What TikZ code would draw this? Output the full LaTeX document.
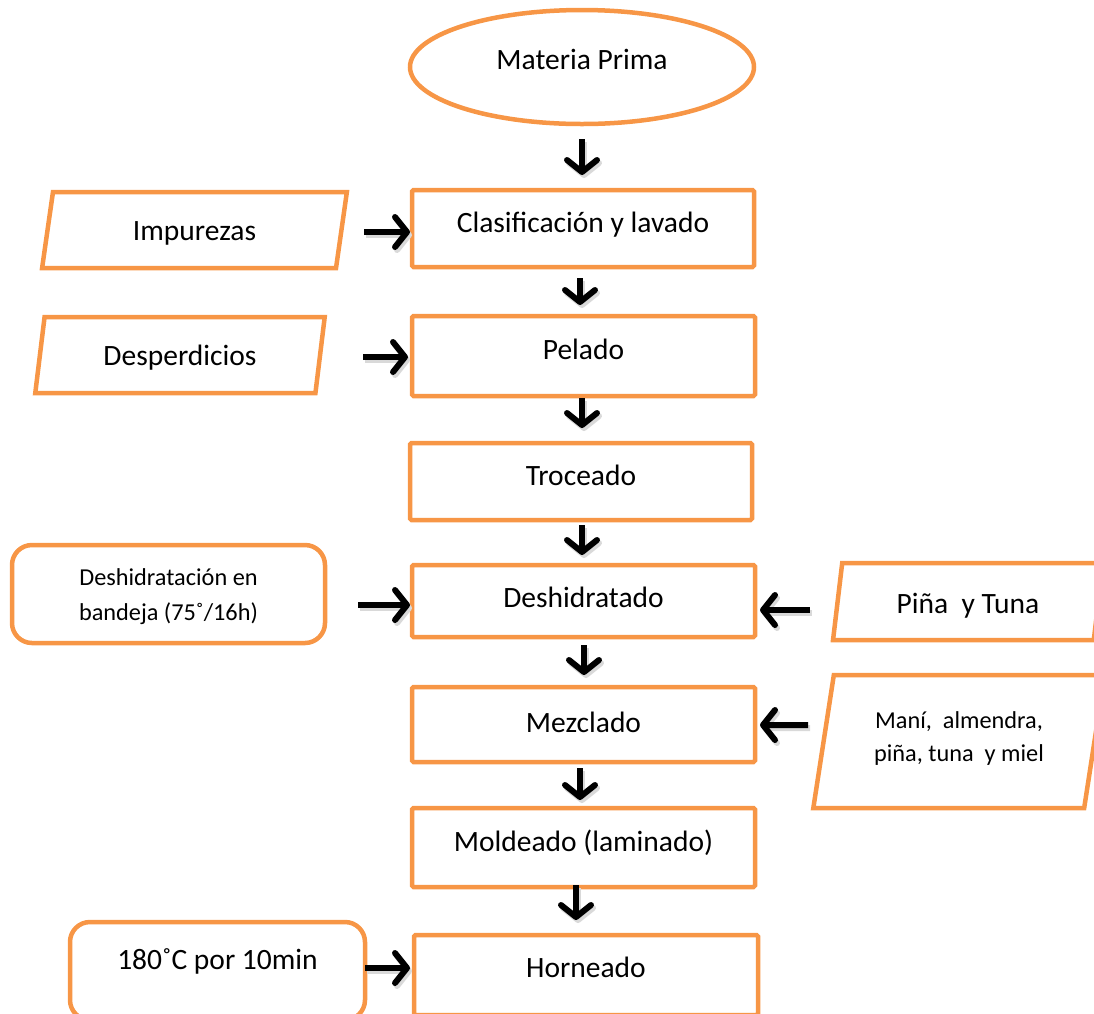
\documentclass[tikz,border=0pt]{standalone}
\usepackage{fontspec}
\setmainfont{Carlito}
\usetikzlibrary{shapes.geometric,arrows.meta,calc}
\definecolor{orng}{HTML}{F79646}
\newcommand{\txr}[2]{\raisebox{#1}[0pt][0pt]{#2}}
\newcommand{\txp}[2]{\raisebox{#1}[10pt][10pt]{#2}}
\begin{document}
\begin{tikzpicture}[x=1pt,y=-1pt,
  box/.style={draw=orng, line width=4.5pt, fill=white, inner sep=0pt, outer sep=0pt,
    font=\fontsize{29.5}{34}\selectfont, align=center},
  proc/.style={box, rectangle, rounded corners=1.5pt},
  cond/.style={box, rectangle, rounded corners=20pt, font=\fontsize{24.3}{35}\selectfont},
  para/.style={box, trapezium, trapezium left angle=#1, trapezium right angle=180-#1, trapezium stretches=true},
  arr/.style={line width=6pt, -{Straight Barb[length=12pt, width=30pt, line cap=round, line join=round]},
    preaction={draw=black!15, line width=6pt, transform canvas={shift={(2pt,-3pt)}}}},
]
\useasboundingbox (0,0) rectangle (1094,1013);

% main column
\node[box, ellipse, minimum width=344, minimum height=114] (mp) at (582,67) {\txr{-2pt}{Materia Prima}};
\node[proc, minimum width=342, minimum height=77] (cl) at (583,228.5) {\txr{-3.5pt}{Clasificación y lavado}};
\node[proc, minimum width=343, minimum height=80] (pel) at (583.5,356) {\txr{-3pt}{Pelado}};
\node[proc, minimum width=342, minimum height=77] (tr) at (581,481.5) {\txr{-3.5pt}{Troceado}};
\node[proc, minimum width=343, minimum height=72] (dh) at (583.5,601) {\txr{-6pt}{Deshidratado}};
\node[proc, minimum width=343, minimum height=75] (mz) at (583.5,724.5) {\txr{-7.5pt}{Mezclado}};
\node[proc, minimum width=343, minimum height=79] (mo) at (583.5,847.5) {\txr{-3.5pt}{Moldeado (laminado)}};
\node[proc, minimum width=344, minimum height=80] (hn) at (586,975) {\txr{-2pt}{Horneado}};

% side nodes
\node[para=76.7, minimum width=305, minimum height=76] (imp) at (194.5,230) {\txp{-10pt}{Impurezas}};
\node[para=75.3, minimum width=290, minimum height=76] (desp) at (180,355) {\txp{-10pt}{Desperdicios}};
\node[cond, minimum width=313, minimum height=98] (des) at (168.5,594) {\txr{-8.5pt}{Deshidratación en}\\\txr{-8.5pt}{bandeja (75˚/16h)}};
\node[para=75.4, minimum width=270, minimum height=77] (pina) at (968,601.5) {\txp{-11.5pt}{Piña\ \ y Tuna}};
\node[para=75.3, minimum width=292, minimum height=133, font=\fontsize{24.3}{33}\selectfont] (mani) at (959,741.5) {\txp{-3pt}{Maní,\ \ almendra,}\\\txp{-3pt}{piña, tuna\ \ y miel}};
\node[cond, minimum width=295, minimum height=98, font=\fontsize{29.5}{34}\selectfont] (t180) at (217.5,971) {\txr{2pt}{180˚C por 10min}};

% vertical arrows
\draw[arr] ($(mp.south)+(0,15)$) -- ($(cl.north)+(-1,-15)$);
\draw[arr] ($(cl.south)+(-3,11)$) -- ($(pel.north)+(-3.5,-11)$);
\draw[arr] ($(pel.south)+(-1.5,2)$) -- ($(tr.north)+(1,-15)$);
\draw[arr] ($(tr.south)+(1,5)$) -- ($(dh.north)+(-1.5,-10)$);
\draw[arr] ($(dh.south)+(0.5,8)$) -- ($(mz.north)+(0.5,-12)$);
\draw[arr] ($(mz.south)+(-3.5,6)$) -- ($(mo.north)+(-3.5,-8)$);
\draw[arr] ($(mo.south)+(-7.5,-2)$) -- ($(hn.north)+(-10,-15)$);

% horizontal arrows
\draw[arr] ($(imp.east)+(23,2)$) -- ($(cl.west)+(-2,3.5)$);
\draw[arr] ($(desp.east)+(43,2)$) -- ($(pel.west)+(-4,1)$);
\draw[arr] ($(des.east)+(33,11)$) -- ($(dh.west)+(-2,4)$);
\draw[arr] ($(pina.west)+(-28,8.5)$) -- ($(dh.east)+(5,9)$);
\draw[arr] ($(mani.west)+(-15.5,-16.5)$) -- ($(mz.east)+(5,0.5)$);
\draw[arr] ($(t180.east)+(0,-3)$) -- ($(hn.west)+(-4,-7)$);
\end{tikzpicture}
\end{document}
